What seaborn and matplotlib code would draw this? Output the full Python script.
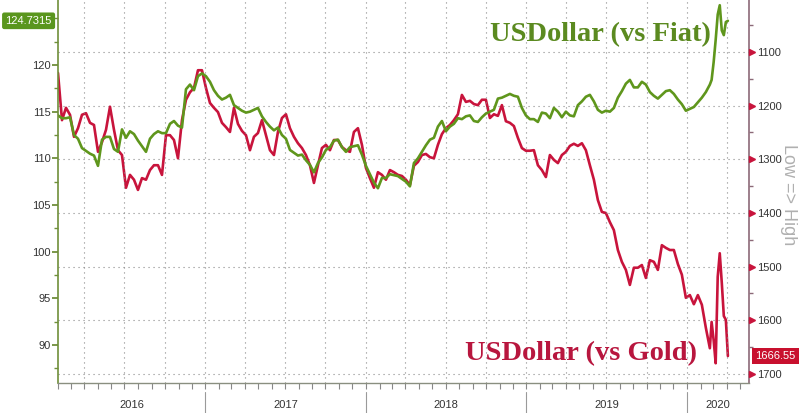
import numpy as np
import pandas as pd
import matplotlib
matplotlib.use("Agg")
import matplotlib.pyplot as plt
import matplotlib.dates as mdates
import matplotlib.transforms as mtransforms
from matplotlib.ticker import MultipleLocator, NullFormatter
import seaborn as sns

# ---------------- data ----------------
# USDollar vs Fiat (left axis), roughly every 9 days Feb-2016 .. Feb-2020
fiat_main = [
    114.6, 114.3, 114.3, 114.4, 112.5, 112.1, 111.1, 110.8, 110.5, 110.3,
    109.2, 112.0, 112.3, 112.3, 111.0, 110.7, 113.1, 112.2, 112.9, 112.6,
    111.9, 111.3, 110.7, 112.1, 112.6, 112.9, 112.7, 112.7, 113.7, 114.0,
    113.5, 113.3, 117.4, 117.9, 117.3, 118.8, 119.1, 118.8, 118.2, 117.3,
    116.7, 116.3, 116.5, 116.8, 115.7, 115.4, 115.1, 114.9, 115.0, 115.2,
    115.4, 114.5, 113.9, 113.4, 113.0, 113.3, 112.5, 112.1, 110.9, 110.6,
    110.3, 110.4, 109.8, 109.3, 108.5, 109.5, 110.1, 110.9, 111.2, 111.9,
    112.0, 111.2, 110.7, 111.2, 111.3, 111.4, 110.4, 109.2, 108.3, 107.4,
    106.8, 107.9, 107.9, 108.3, 108.2, 108.1, 107.8, 107.5, 107.0, 109.5,
    110.0, 110.7, 111.4, 112.0, 112.2, 113.4, 114.0, 112.9, 113.4, 113.7,
    114.3, 114.2, 114.5, 114.6, 114.0, 113.9, 114.4, 114.8, 115.0, 115.2,
    116.4, 116.5, 116.7, 116.9, 116.7, 116.6, 115.4, 114.6, 114.2, 114.2,
    113.9, 114.9, 114.8, 114.3, 115.4, 115.0, 114.4, 115.0, 114.6, 114.5,
    115.7, 116.1, 116.6, 116.8, 116.1, 115.2, 114.9, 115.1, 115.0, 115.4,
    116.5, 117.2, 118.0, 118.4, 117.6, 117.6, 118.2, 117.9, 117.1, 116.7,
    116.4, 116.8, 117.2, 117.3, 116.9, 116.3, 115.8, 115.1, 115.3, 115.5,
    116.0, 116.5, 117.1, 117.9,
]
# late Feb .. early Apr 2020, every ~4.5 days
fiat_tail = [118.4, 120.3, 122.7, 125.4, 126.4, 123.7, 123.2, 124.6, 124.7315]

# USDollar vs Gold (gold price, right axis, inverted)
gold_main = [
    1139, 1227, 1204, 1217, 1258, 1242, 1217, 1214, 1232, 1236,
    1286, 1268, 1245, 1202, 1245, 1283, 1292, 1353, 1329, 1338,
    1357, 1335, 1338, 1320, 1311, 1311, 1329, 1255, 1255, 1264,
    1298, 1227, 1189, 1175, 1167, 1134, 1134, 1167, 1195, 1204,
    1212, 1232, 1240, 1249, 1204, 1234, 1247, 1255, 1283, 1258,
    1251, 1227, 1255, 1283, 1292, 1249, 1223, 1216, 1242, 1258,
    1270, 1279, 1292, 1311, 1344, 1311, 1279, 1273, 1283, 1264,
    1264, 1277, 1283, 1286, 1249, 1242, 1273, 1316, 1335, 1353,
    1324, 1329, 1338, 1320, 1324, 1329, 1331, 1338, 1348, 1312,
    1305, 1292, 1290, 1296, 1298, 1273, 1253, 1242, 1236, 1227,
    1216, 1180, 1193, 1191, 1197, 1199, 1189, 1189, 1223, 1216,
    1219, 1199, 1229, 1232, 1238, 1260, 1279, 1284, 1284, 1283,
    1311, 1320, 1333, 1292, 1301, 1307, 1292, 1286, 1275, 1271,
    1275, 1270, 1283, 1311, 1338, 1376, 1398, 1400, 1417, 1432,
    1469, 1491, 1506, 1534, 1502, 1502, 1497, 1521, 1488, 1491,
    1506, 1460, 1465, 1469, 1469, 1495, 1515, 1558, 1553, 1570,
    1553, 1571, 1614, 1652,
]
gold_tail = [1603, 1637, 1680, 1519, 1475, 1530, 1592, 1599, 1666.55]

main_start, main_end = "2016-02-01", "2020-02-22"
tail_start, tail_end = "2020-02-26", "2020-04-03"
years = [2016, 2017, 2018, 2019, 2020]
fiat_ticks = [90, 95, 100, 105, 110, 115, 120]
gold_ticks = [1100, 1200, 1300, 1400, 1500, 1600, 1700]

fiat_label = "USDollar (vs Fiat)"
gold_label = "USDollar (vs Gold)"
axis_note = "Low => High"


def build(main, tail):
    d = list(pd.date_range(main_start, main_end, periods=len(main))) + \
        list(pd.date_range(tail_start, tail_end, periods=len(tail)))
    return pd.DataFrame({"date": d, "value": list(main) + list(tail)})


df_fiat = build(fiat_main, fiat_tail)
df_gold = build(gold_main, gold_tail)

# ---------------- style ----------------
GREEN = "#5f961c"
GREEN_TXT = "#5b8a20"
GREEN_SPINE = "#6f8f3a"
RED = "#c8143c"
RED_TXT = "#b8163e"
RED_SPINE = "#8c6a78"

sns.set_theme(style="white")
plt.rcParams["font.family"] = ["Liberation Sans", "DejaVu Sans"]

fig = plt.figure(figsize=(8, 4.13), dpi=100)
fig.patch.set_facecolor("white")
ax = fig.add_axes([58 / 800, 30 / 413, 691 / 800, 383 / 413])
ax2 = ax.twinx()

sns.lineplot(data=df_gold, x="date", y="value", ax=ax2, color=RED, lw=1.9)
sns.lineplot(data=df_fiat, x="date", y="value", ax=ax, color=GREEN, lw=1.9)

ax.set_zorder(ax2.get_zorder() + 1)
ax.patch.set_visible(False)

xmin, xmax = pd.Timestamp("2016-02-01"), pd.Timestamp("2020-05-21")
ax.set_xlim(xmin, xmax)
ax.set_ylim(85.94, 126.96)
ax2.set_ylim(1716.8, 1003.1)

for a in (ax, ax2):
    a.set_xlabel("")
    a.set_ylabel("")

# spines
ax.spines["top"].set_visible(False)
ax.spines["right"].set_visible(False)
ax2.spines["top"].set_visible(False)
ax2.spines["left"].set_visible(False)
ax2.spines["bottom"].set_visible(False)
ax.spines["left"].set_color(GREEN_SPINE)
ax.spines["left"].set_linewidth(1.2)
ax.spines["bottom"].set_color("#8a8f80")
ax.spines["bottom"].set_linewidth(1.0)
ax2.spines["right"].set_color(RED_SPINE)
ax2.spines["right"].set_linewidth(1.2)

# left axis ticks
ax.set_yticks(fiat_ticks)
ax.yaxis.set_minor_locator(MultipleLocator(2.5))
ax.tick_params(axis="y", which="major", left=True, length=4, width=1.3,
               color=GREEN_SPINE, labelsize=8, labelcolor="#333333", pad=1.5)
ax.tick_params(axis="y", which="minor", left=True, length=3, width=1.0,
               color=GREEN_SPINE)

# right axis ticks (triangular markers as in the reference)
ax2.set_yticks(gold_ticks)
ax2.yaxis.set_minor_locator(MultipleLocator(50))
ax2.tick_params(axis="y", which="major", right=True, length=0,
                labelsize=8, labelcolor="#333333", pad=6)
ax2.tick_params(axis="y", which="minor", right=True, length=3, width=1.0,
                color=RED_SPINE)
tr = mtransforms.blended_transform_factory(ax2.transAxes, ax2.transData)
ax2.plot([1.0045] * len(gold_ticks), gold_ticks, ls="none", marker=">",
         ms=4.5, color=RED, mec=RED, transform=tr, clip_on=False, zorder=5)

# x axis ticks: monthly small ticks, quarterly dotted gridlines
ax.xaxis.set_major_locator(mdates.MonthLocator(bymonth=[1, 4, 7, 10]))
ax.xaxis.set_minor_locator(mdates.MonthLocator())
ax.xaxis.set_major_formatter(NullFormatter())
ax.xaxis.set_minor_formatter(NullFormatter())
ax.tick_params(axis="x", which="both", bottom=True, length=4, width=0.8,
               color="#888888")

grid_kw = dict(color="#8a8a8a", lw=0.8, ls=(0, (1, 3.5)))
ax.grid(axis="x", which="major", **grid_kw)
ax2.grid(axis="y", which="major", **grid_kw)
ax.grid(axis="y", visible=False)
ax2.grid(axis="x", visible=False)

# year separators and labels
xt = mtransforms.blended_transform_factory(ax.transData, ax.transAxes)
for yr in years:
    lo = max(pd.Timestamp(f"{yr}-01-01"), xmin)
    hi = min(pd.Timestamp(f"{yr + 1}-01-01"), xmax)
    if pd.Timestamp(f"{yr}-01-01") > xmin:
        ax.axvline(pd.Timestamp(f"{yr}-01-01"), ymin=-0.078, ymax=-0.024,
                   color="#9a9a9a", lw=0.8, clip_on=False)
    ax.text(lo + (hi - lo) / 2, -0.057, str(yr), transform=xt, ha="center",
            va="center", fontsize=8, color="#333333")

# series labels
fig.text(490 / 800, 1 - 35 / 413, fiat_label, color=GREEN_TXT, fontsize=20.5,
         fontweight="bold", family=["Liberation Serif", "DejaVu Serif"],
         ha="left", va="center")
fig.text(465 / 800, 1 - 354 / 413, gold_label, color=RED_TXT, fontsize=20.5,
         fontweight="bold", family=["Liberation Serif", "DejaVu Serif"],
         ha="left", va="center")
fig.text(789 / 800, 1 - 195 / 413, axis_note, color="#b0b0b0", fontsize=13,
         rotation=270, ha="center", va="center")

# last-value tags
tl = mtransforms.blended_transform_factory(ax.transAxes, ax.transData)
last_fiat = df_fiat["value"].iloc[-1]
ax.text(-0.009, last_fiat, f"{last_fiat:.4f}", transform=tl, ha="right",
        va="center", color="white", fontsize=8, clip_on=False, zorder=10,
        bbox=dict(boxstyle="round,pad=0.3,rounding_size=0.2", fc="#5a961e",
                  ec="none"))
last_gold = df_gold["value"].iloc[-1]
ax2.text(1.009, last_gold, f"{last_gold:.2f}", transform=tr, ha="left",
         va="center", color="white", fontsize=8, clip_on=False, zorder=10,
         bbox=dict(boxstyle="square,pad=0.3", fc="#c8102e", ec="none"))

fig.savefig("out.png", dpi=100, facecolor="white")
